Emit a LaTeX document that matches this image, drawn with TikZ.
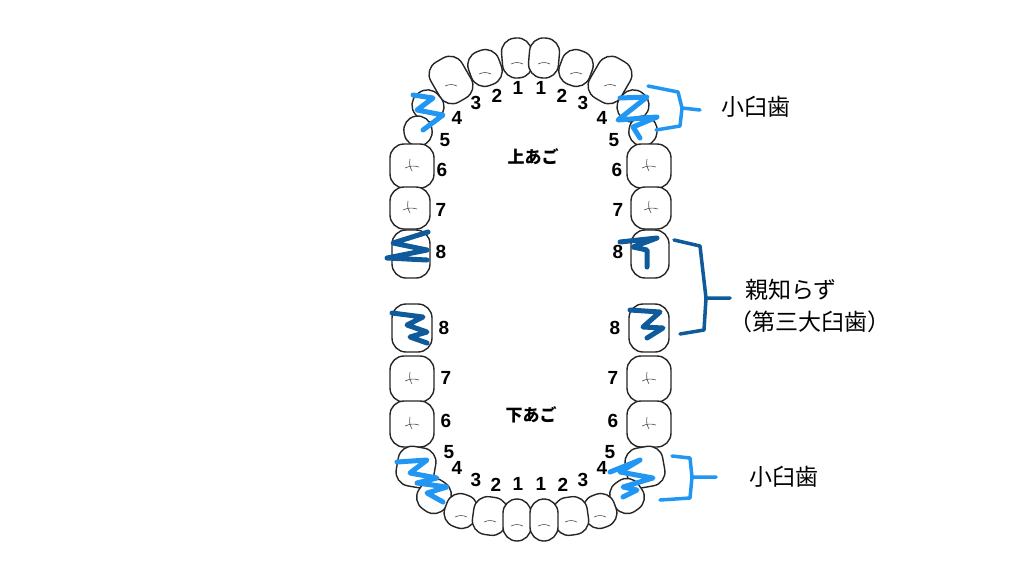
\documentclass[tikz,border=0pt]{standalone}
\usepackage{fontspec}
\setmainfont{Liberation Sans}
\newfontfamily\jp{Noto Sans CJK JP}
\begin{document}
\begin{tikzpicture}[x=1pt,y=-1pt,
  tooth/.style={draw=black!85,line width=1.4pt,fill=white,rounded corners=14pt,inner sep=0pt},
  num/.style={font=\bfseries\fontsize{19}{19}\selectfont},
  lbl/.style={font=\jp\fontsize{23}{23}\selectfont},
  lt/.style={color={rgb,255:red,33;green,150;blue,243},line width=5pt,line cap=round,line join=round},
  dk/.style={color={rgb,255:red,14;green,90;blue,155},line width=5pt,line cap=round,line join=round},
  ltb/.style={color={rgb,255:red,33;green,150;blue,243},line width=3.5pt,line cap=round,line join=round},
  dkb/.style={color={rgb,255:red,14;green,90;blue,155},line width=3.5pt,line cap=round,line join=round}]
\fill[white] (0,0) rectangle (1024,576);
\useasboundingbox (0,0) rectangle (1024,576);
\foreach \n/\x/\y/\w/\h/\r in {
 u1l/517/58/30/40/5, u2l/485/68/32/36/20, u3l/451/80/36/46/30, u4l/428/106/30/32/40, u5l/418/131/28/30/10,
 u6l/412/166/44/44/0, u7l/410/208/40/42/0, u8l/411/254/38/48/0,
 l8l/412/328/40/48/0, l7l/412/379/44/46/0, l6l/412/424/44/46/0, l5l/416/467/38/40/-10, l4l/434/496/32/34/-35,
 l3l/461/511/32/34/-20, l2l/490/516/34/38/-8, l1l/517/520/28/42/0}{
  \node[tooth,minimum width=\w pt,minimum height=\h pt,rotate=\r] (\n) at (\x,\y) {};
  \node[tooth,minimum width=\w pt,minimum height=\h pt,rotate=-\r] (\n r) at ({1061-\x},\y) {};
}
\foreach \t in {u6l,u7l,l7l,l6l,u6lr,u7lr,l7lr,l6lr}{
  \draw[black!70,line width=.6pt] ([xshift=-7pt,yshift=-2pt]\t.center) to[bend left=20] ([xshift=7pt,yshift=-1pt]\t.center);
  \draw[black!70,line width=.6pt] ([xshift=-2pt,yshift=7pt]\t.center) to[bend right=20] ([xshift=0pt,yshift=-5pt]\t.center);
}
\foreach \t in {u1l,u2l,u3l,l1l,l2l,l3l,u1lr,u2lr,u3lr,l1lr,l2lr,l3lr}{
  \draw[black!70,line width=.6pt] ([xshift=-6pt,yshift=-6pt]\t.center) to[bend left=25] ([xshift=6pt,yshift=-6pt]\t.center);
}
\foreach \t/\x/\y in {1/518/88,2/497/96,3/476/103,4/457/118,5/445/140,6/442/170,7/441/210,8/441/252,
  8/444/328,7/446/378,6/446/421,5/449/452,4/457/468,3/476/480,2/496/485,1/518/484}{
  \node[num] (n\t\x\y) at (\x,\y) {\t};
  \node[num] (m\t\x\y) at ({1059-\x},\y) {\t};
}
\node[font=\jp\bfseries\fontsize{17}{17}\selectfont] (up) at (533,157) {上あご};
\node[font=\jp\bfseries\fontsize{17}{17}\selectfont] (lo) at (531,415) {下あご};
\draw[lt] (413,95)--(433,98)--(417,110)--(443,115)--(423,130);
\draw[lt] (620,98)--(647,97)--(618,120)--(657,117)--(633,127)--(640,138);
\draw[lt] (397,462)--(427,460)--(410,473)--(437,478)--(417,483)--(447,487)--(427,493)--(443,502);
\draw[lt] (610,472)--(640,460)--(620,472)--(653,478)--(623,487)--(637,490)--(623,497);
\draw[dk] (428,232)--(393,243)--(427,250)--(387,258)--(427,260);
\draw[dk] (620,242)--(657,238)--(633,247)--(647,250)--(647,267);
\draw[dk] (392,313)--(423,317)--(407,325)--(427,332)--(410,337)--(427,343);
\draw[dk] (630,310)--(660,312)--(643,327)--(663,328)--(647,338);
\coordinate (b1a) at (648,86); \coordinate (b1b) at (656,130);
\draw[ltb] (b1a)--(678,92)--(682,108)--(700,110);
\draw[ltb] (682,108)--(680,126)--(b1b);
\coordinate (b2a) at (674,240); \coordinate (b2b) at (680,334);
\draw[dkb] (b2a)--(700,246)--(706,298)--(730,298);
\draw[dkb] (706,298)--(704,330)--(b2b);
\coordinate (b3a) at (672,456); \coordinate (b3b) at (660,500);
\draw[ltb] (b3a)--(690,458)--(692,477)--(716,477);
\draw[ltb] (692,477)--(690,498)--(b3b);
\node[lbl] (t1) at (756,107) {小臼歯};
\node[lbl] (t2) at (791,290) {親知らず};
\node[lbl] (t3) at (810,322) {（第三大臼歯）};
\node[lbl] (t4) at (784,477) {小臼歯};
\end{tikzpicture}
\end{document}
